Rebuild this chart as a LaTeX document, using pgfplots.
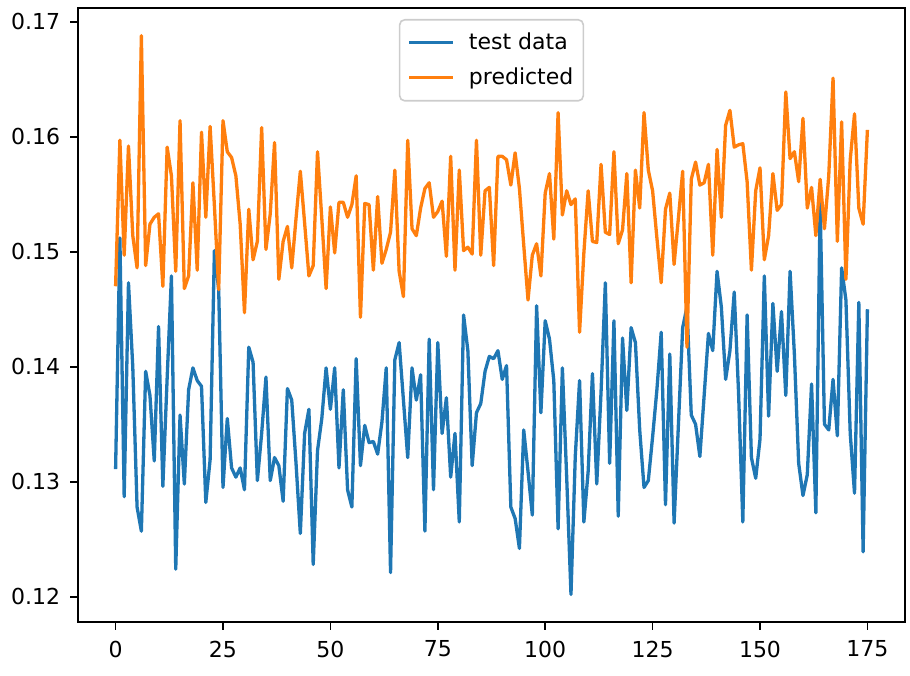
\documentclass[border=0pt]{standalone}
\usepackage{pgfplots}
\usepackage{pgfplotstable}
\pgfplotsset{compat=1.18}
\usepackage{fontspec}
\setmainfont{DejaVu Sans}
\definecolor{mplblue}{HTML}{1F77B4}
\definecolor{mplorange}{HTML}{FF7F0E}
\pgfplotstableread{
x test pred
0 0.1311 0.1470
1 0.1512 0.1597
2 0.1287 0.1497
3 0.1473 0.1592
4 0.1400 0.1514
5 0.1278 0.1486
6 0.1257 0.1688
7 0.1396 0.1488
8 0.1375 0.1524
9 0.1318 0.1530
10 0.1435 0.1533
11 0.1296 0.1470
12 0.1390 0.1591
13 0.1479 0.1566
14 0.1224 0.1483
15 0.1358 0.1614
16 0.1298 0.1468
17 0.1380 0.1479
18 0.1399 0.1560
19 0.1388 0.1484
20 0.1383 0.1604
21 0.1282 0.1530
22 0.1319 0.1609
23 0.1501 0.1540
24 0.1467 0.1467
25 0.1295 0.1614
26 0.1355 0.1587
27 0.1312 0.1582
28 0.1304 0.1566
29 0.1312 0.1524
30 0.1293 0.1447
31 0.1417 0.1537
32 0.1404 0.1493
33 0.1301 0.1509
34 0.1342 0.1608
35 0.1391 0.1502
36 0.1301 0.1533
37 0.1321 0.1595
38 0.1314 0.1476
39 0.1283 0.1509
40 0.1381 0.1522
41 0.1371 0.1486
42 0.1316 0.1529
43 0.1255 0.1570
44 0.1342 0.1525
45 0.1363 0.1479
46 0.1228 0.1488
47 0.1327 0.1587
48 0.1355 0.1529
49 0.1399 0.1468
50 0.1363 0.1539
51 0.1399 0.1499
52 0.1312 0.1543
53 0.1380 0.1543
54 0.1293 0.1530
55 0.1278 0.1541
56 0.1407 0.1566
57 0.1314 0.1443
58 0.1349 0.1542
59 0.1334 0.1541
60 0.1335 0.1484
61 0.1324 0.1548
62 0.1352 0.1490
63 0.1399 0.1502
64 0.1221 0.1517
65 0.1406 0.1571
66 0.1421 0.1483
67 0.1371 0.1461
68 0.1321 0.1597
69 0.1399 0.1520
70 0.1371 0.1514
71 0.1393 0.1538
72 0.1257 0.1555
73 0.1424 0.1560
74 0.1293 0.1530
75 0.1421 0.1535
76 0.1342 0.1544
77 0.1373 0.1496
78 0.1304 0.1583
79 0.1342 0.1484
80 0.1265 0.1571
81 0.1445 0.1501
82 0.1414 0.1504
83 0.1314 0.1498
84 0.1360 0.1597
85 0.1368 0.1497
86 0.1396 0.1553
87 0.1409 0.1556
88 0.1407 0.1488
89 0.1414 0.1583
90 0.1389 0.1583
91 0.1401 0.1580
92 0.1278 0.1558
93 0.1268 0.1586
94 0.1242 0.1555
95 0.1345 0.1506
96 0.1309 0.1458
97 0.1271 0.1497
98 0.1453 0.1507
99 0.1360 0.1479
100 0.1440 0.1551
101 0.1424 0.1568
102 0.1388 0.1511
103 0.1259 0.1621
104 0.1399 0.1532
105 0.1304 0.1553
106 0.1202 0.1541
107 0.1322 0.1546
108 0.1388 0.1430
109 0.1265 0.1499
110 0.1309 0.1553
111 0.1394 0.1509
112 0.1298 0.1508
113 0.1378 0.1576
114 0.1473 0.1517
115 0.1316 0.1515
116 0.1440 0.1587
117 0.1270 0.1507
118 0.1425 0.1519
119 0.1362 0.1568
120 0.1434 0.1473
121 0.1421 0.1571
122 0.1345 0.1538
123 0.1295 0.1621
124 0.1301 0.1571
125 0.1339 0.1553
126 0.1380 0.1512
127 0.1430 0.1473
128 0.1280 0.1537
129 0.1411 0.1551
130 0.1264 0.1489
131 0.1349 0.1529
132 0.1434 0.1570
133 0.1452 0.1417
134 0.1358 0.1563
135 0.1350 0.1578
136 0.1322 0.1558
137 0.1375 0.1560
138 0.1429 0.1576
139 0.1414 0.1497
140 0.1483 0.1589
141 0.1452 0.1530
142 0.1389 0.1610
143 0.1414 0.1623
144 0.1465 0.1591
145 0.1378 0.1593
146 0.1265 0.1594
147 0.1445 0.1561
148 0.1321 0.1484
149 0.1303 0.1553
150 0.1337 0.1573
151 0.1479 0.1493
152 0.1357 0.1514
153 0.1455 0.1568
154 0.1396 0.1536
155 0.1448 0.1541
156 0.1375 0.1639
157 0.1483 0.1581
158 0.1411 0.1587
159 0.1316 0.1561
160 0.1288 0.1616
161 0.1306 0.1538
162 0.1385 0.1556
163 0.1273 0.1514
164 0.1542 0.1563
165 0.1350 0.1520
166 0.1345 0.1566
167 0.1389 0.1651
168 0.1340 0.1509
169 0.1486 0.1613
170 0.1458 0.1476
171 0.1342 0.1580
172 0.1290 0.1620
173 0.1456 0.1538
174 0.1239 0.1524
175 0.1450 0.1606
}\datatable
\begin{document}
\begin{tikzpicture}
\begin{axis}[
  name=main,
  scale only axis,
  width=413.5pt, height=307pt,
  xmin=-8.75, xmax=183.75,
  ymin=0.1178, ymax=0.1712,
  xtick={0,25,50,75,100,125,150,175},
  ytick={0.12,0.13,0.14,0.15,0.16,0.17},
  yticklabel style={xshift=-1.5pt, /pgf/number format/fixed, /pgf/number format/fixed zerofill, /pgf/number format/precision=2},
  /pgf/number format/assume math mode=true,
  tick align=outside,
  major tick length=3.85pt,
  tick style={black, line width=0.88pt},
  axis line style={line width=0.88pt},
  tick label style={font=\fontsize{11}{13}\selectfont},
  xticklabel style={yshift=-2pt},
  xtick pos=bottom, ytick pos=left,
  scaled y ticks=false,
  legend style={at={(0.5,1)}, yshift=-5.5pt, anchor=north, draw=black!20, rounded corners=2.5pt,
    line width=0.8pt,
    font=\fontsize{11}{13}\selectfont, inner xsep=3pt, inner ysep=4.5pt, row sep=3.5pt,
    cells={anchor=west, text height=8.5pt, text depth=2.5pt, inner ysep=1pt}},
  legend cell align=left,
  legend image code/.code={\draw[#1] (0pt,0pt) -- (22pt,0pt); \path (-1pt,0pt) (27pt,0pt);},
]
\addplot[mplblue, line width=1.65pt, line join=round] table[x=x, y=test] {\datatable};
\addlegendentry{test data}
\addplot[mplorange, line width=1.65pt, line join=round] table[x=x, y=pred] {\datatable};
\addlegendentry{predicted}
\end{axis}
\path (main.south west) ++(-39pt,-26.5pt) (main.north east) ++(2.5pt,4pt);
\end{tikzpicture}
\end{document}
